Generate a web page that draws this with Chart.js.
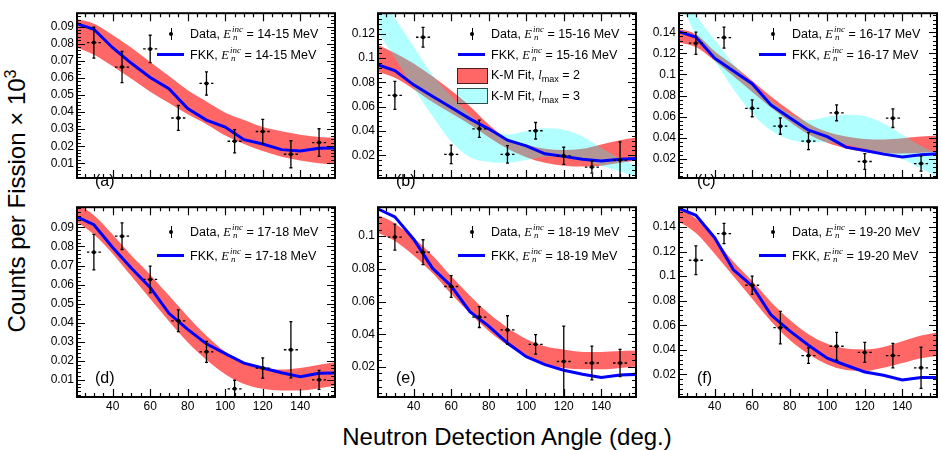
<!DOCTYPE html>
<html>
<head>
<meta charset="utf-8">
<title>Neutron angular distributions</title>
<script src="https://cdn.jsdelivr.net/npm/chart.js@4.4.1/dist/chart.umd.min.js"></script>
<style>
  html, body { margin: 0; padding: 0; background: #fff; overflow: hidden; }
  #wrap { position: relative; width: 941px; height: 450px; font-family: 'Liberation Sans', Arial, sans-serif; color: #000; }
  #wrap canvas { position: absolute; }
  .leg { position: absolute; font-size: 12.5px; line-height: 16px; white-space: nowrap; z-index: 2; }
  .E { font-family: 'Liberation Serif', serif; font-style: italic; }
  .ss { position: relative; display: inline-block; width: 12px; height: 0; }
  .ss span { position: absolute; left: 1px; font: italic 9px/9px 'Liberation Serif', serif; }
  .ss .up { top: -13px; }
  .ss .dn { top: -5px; left: 2px; }
  .lsub { font-size: 9px; position: relative; top: 3px; }
  .sym { position: absolute; z-index: 2; }
  .tag { position: absolute; font-size: 16px; line-height: 16px; z-index: 2; }
  .title { position: absolute; font-size: 24px; line-height: 28px; text-align: center; white-space: nowrap; }
  .title sup { font-size: 16px; line-height: 0; }
</style>
</head>
<body>
<div id="wrap">
  <div class="title" id="ytitle" style="left:-133px; top:187px; width:300px; transform:rotate(-90deg);">Counts per Fission &times; 10<sup>3</sup></div>
  <div class="title" id="xtitle" style="left:207px; top:423px; width:600px;">Neutron Detection Angle (deg.)</div>
</div>
<script>
// measured angles (deg) and the angular bin half width
const ANGLES = [30, 45, 60, 75, 90, 105, 120, 135, 150];
const ANGLE_HALF_WIDTH = 3.75;
// angles where the FKK calculation and the K-M fit bands are sampled
const CURVE_ANGLES = [20, 30, 40, 50, 60, 70, 80, 90, 100, 110, 120, 130, 140, 150, 160];
const X_RANGE = [21, 158.5];
const X_TICKS = [40, 60, 80, 100, 120, 140];
const E_BINS = ['14-15', '15-16', '16-17', '17-18', '18-19', '19-20'];
const PANEL_TAGS = ['(a)', '(b)', '(c)', '(d)', '(e)', '(f)'];

// (a) 14-15 MeV
const DATA_A = [0.0806, 0.0663, 0.0769, 0.0365, 0.0567, 0.0229, 0.0286, 0.0153, 0.0221];
const ERR_A = [0.0091, 0.0091, 0.0080, 0.0073, 0.0068, 0.0068, 0.0071, 0.0079, 0.0081];
const FKK_A = [0.0920, 0.0884, 0.0776, 0.0685, 0.0602, 0.0536, 0.0420, 0.0353, 0.0312, 0.0238, 0.0213, 0.0180, 0.0172, 0.0188, 0.0190];
const KM2_LO_A = [0.0780, 0.0735, 0.0668, 0.0594, 0.0519, 0.0453, 0.0387, 0.0329, 0.0262, 0.0213, 0.0172, 0.0138, 0.0117, 0.0100, 0.0093];
const KM2_HI_A = [0.0945, 0.0917, 0.0850, 0.0776, 0.0693, 0.0610, 0.0527, 0.0461, 0.0396, 0.0353, 0.0312, 0.0287, 0.0267, 0.0254, 0.0248];
const Y_RANGE_A = [0.0014, 0.0978];
const Y_TICKS_A = [0.01, 0.02, 0.03, 0.04, 0.05, 0.06, 0.07, 0.08, 0.09];

// (b) 15-16 MeV
const DATA_B = [0.0693, 0.1172, 0.0208, 0.0418, 0.0208, 0.0402, 0.0196, 0.0103, 0.0161];
const ERR_B = [0.0115, 0.0082, 0.0076, 0.0071, 0.0072, 0.0068, 0.0070, 0.0050, 0.0150];
const FKK_B = [0.0950, 0.0897, 0.0780, 0.0686, 0.0593, 0.0500, 0.0418, 0.0324, 0.0278, 0.0212, 0.0191, 0.0168, 0.0154, 0.0168, 0.0175];
const KM2_LO_B = [0.0890, 0.0838, 0.0744, 0.0639, 0.0546, 0.0453, 0.0348, 0.0254, 0.0184, 0.0138, 0.0114, 0.0107, 0.0114, 0.0138, 0.0161];
const KM2_HI_B = [0.1115, 0.1042, 0.0955, 0.0850, 0.0733, 0.0604, 0.0453, 0.0336, 0.0289, 0.0254, 0.0243, 0.0254, 0.0289, 0.0324, 0.0350];
const KM3_LO_B = [0.1230, 0.1002, 0.0756, 0.0523, 0.0313, 0.0184, 0.0145, 0.0138, 0.0161, 0.0189, 0.0191, 0.0161, 0.0114, 0.0068, 0.0015];
const KM3_HI_B = [0.1550, 0.1329, 0.1095, 0.0861, 0.0686, 0.0534, 0.0418, 0.0371, 0.0401, 0.0422, 0.0411, 0.0355, 0.0261, 0.0173, 0.0108];
const Y_RANGE_B = [0.0013, 0.137];
const Y_TICKS_B = [0.02, 0.04, 0.06, 0.08, 0.1, 0.12];

// (c) 16-17 MeV
const DATA_C = [0.1296, 0.1349, 0.0680, 0.0511, 0.0369, 0.0637, 0.0176, 0.0586, 0.0157];
const ERR_C = [0.0105, 0.0100, 0.0080, 0.0077, 0.0080, 0.0075, 0.0075, 0.0088, 0.0072];
const FKK_C = [0.1410, 0.1355, 0.1154, 0.1033, 0.0913, 0.0712, 0.0591, 0.0473, 0.0412, 0.0312, 0.0280, 0.0246, 0.0219, 0.0240, 0.0251];
const KM2_LO_C = [0.1305, 0.1260, 0.1130, 0.0983, 0.0835, 0.0688, 0.0553, 0.0433, 0.0353, 0.0300, 0.0267, 0.0251, 0.0251, 0.0259, 0.0273];
const KM2_HI_C = [0.1435, 0.1381, 0.1220, 0.1087, 0.0940, 0.0792, 0.0658, 0.0537, 0.0457, 0.0412, 0.0390, 0.0385, 0.0396, 0.0412, 0.0423];
const KM3_LO_C = [0.1750, 0.1380, 0.1127, 0.0859, 0.0631, 0.0471, 0.0385, 0.0358, 0.0358, 0.0337, 0.0296, 0.0256, 0.0203, 0.0109, 0.0020];
const KM3_HI_C = [0.1950, 0.1570, 0.1328, 0.1100, 0.0913, 0.0752, 0.0631, 0.0565, 0.0599, 0.0618, 0.0605, 0.0537, 0.0430, 0.0324, 0.0235];
const Y_RANGE_C = [0.002, 0.158];
const Y_TICKS_C = [0.02, 0.04, 0.06, 0.08, 0.1, 0.12, 0.14];

// (d) 17-18 MeV
const DATA_D = [0.0770, 0.0854, 0.0627, 0.0410, 0.0247, 0.0053, 0.0162, 0.0258, 0.0100];
const ERR_D = [0.0093, 0.0070, 0.0070, 0.0057, 0.0055, 0.0045, 0.0053, 0.0148, 0.0050];
const FKK_D = [0.0960, 0.0914, 0.0795, 0.0686, 0.0585, 0.0449, 0.0365, 0.0289, 0.0238, 0.0188, 0.0162, 0.0137, 0.0117, 0.0134, 0.0137];
const KM2_LO_D = [0.0935, 0.0863, 0.0762, 0.0643, 0.0525, 0.0407, 0.0297, 0.0205, 0.0129, 0.0078, 0.0053, 0.0044, 0.0044, 0.0056, 0.0071];
const KM2_HI_D = [0.1030, 0.0964, 0.0863, 0.0753, 0.0652, 0.0542, 0.0433, 0.0331, 0.0247, 0.0191, 0.0162, 0.0154, 0.0162, 0.0179, 0.0197];
const Y_RANGE_D = [0.001, 0.1006];
const Y_TICKS_D = [0.01, 0.02, 0.03, 0.04, 0.05, 0.06, 0.07, 0.08, 0.09];

// (e) 18-19 MeV
const DATA_E = [0.0994, 0.0902, 0.0692, 0.0505, 0.0426, 0.0338, 0.0233, 0.0224, 0.0224];
const ERR_E = [0.0080, 0.0076, 0.0067, 0.0064, 0.0087, 0.0060, 0.0217, 0.0103, 0.0083];
const FKK_E = [0.1172, 0.1118, 0.0981, 0.0804, 0.0695, 0.0538, 0.0450, 0.0346, 0.0263, 0.0214, 0.0180, 0.0155, 0.0135, 0.0151, 0.0155];
const KM2_LO_E = [0.1025, 0.0971, 0.0882, 0.0774, 0.0646, 0.0528, 0.0420, 0.0332, 0.0263, 0.0220, 0.0194, 0.0185, 0.0185, 0.0194, 0.0205];
const KM2_HI_E = [0.1134, 0.1078, 0.0990, 0.0882, 0.0754, 0.0636, 0.0528, 0.0440, 0.0371, 0.0326, 0.0306, 0.0292, 0.0292, 0.0298, 0.0301];
const Y_RANGE_E = [0.0016, 0.1177];
const Y_TICKS_E = [0.02, 0.04, 0.06, 0.08, 0.1];

// (f) 19-20 MeV
const DATA_F = [0.1130, 0.1348, 0.0926, 0.0580, 0.0352, 0.0428, 0.0378, 0.0352, 0.0252];
const ERR_F = [0.0118, 0.0083, 0.0075, 0.0133, 0.0063, 0.0114, 0.0082, 0.0100, 0.0168];
const FKK_F = [0.1560, 0.1497, 0.1314, 0.1052, 0.0920, 0.0685, 0.0554, 0.0436, 0.0331, 0.0273, 0.0218, 0.0192, 0.0153, 0.0174, 0.0174];
const KM2_LO_F = [0.1455, 0.1353, 0.1183, 0.0999, 0.0816, 0.0633, 0.0480, 0.0365, 0.0279, 0.0234, 0.0226, 0.0252, 0.0291, 0.0331, 0.0352];
const KM2_HI_F = [0.1557, 0.1471, 0.1301, 0.1117, 0.0960, 0.0790, 0.0645, 0.0527, 0.0449, 0.0409, 0.0402, 0.0423, 0.0470, 0.0515, 0.0545];
const Y_RANGE_F = [0.0014, 0.1563];
const Y_TICKS_F = [0.02, 0.04, 0.06, 0.08, 0.1, 0.12, 0.14];

const FONT = "'Liberation Sans', Arial, sans-serif";
const RED_FILL = 'rgba(255,0,0,0.6)';
const CYAN_FILL = 'rgba(0,255,255,0.3)';
const FKK_BLUE = '#0000ff';

const COL_LEFT = [77, 378, 679];
const FRAME_W = 260;
const Y_AXIS_W = 44;

// only panel (b) carries the K-M legend entries
const panels = [
  { data: DATA_A, err: ERR_A, fkk: FKK_A, km2: [KM2_LO_A, KM2_HI_A], km3: null, yRange: Y_RANGE_A, yTicks: Y_TICKS_A, yMinor: 0.002 },
  { data: DATA_B, err: ERR_B, fkk: FKK_B, km2: [KM2_LO_B, KM2_HI_B], km3: [KM3_LO_B, KM3_HI_B], yRange: Y_RANGE_B, yTicks: Y_TICKS_B, yMinor: 0.004, kmLegend: true },
  { data: DATA_C, err: ERR_C, fkk: FKK_C, km2: [KM2_LO_C, KM2_HI_C], km3: [KM3_LO_C, KM3_HI_C], yRange: Y_RANGE_C, yTicks: Y_TICKS_C, yMinor: 0.004 },
  { data: DATA_D, err: ERR_D, fkk: FKK_D, km2: [KM2_LO_D, KM2_HI_D], km3: null, yRange: Y_RANGE_D, yTicks: Y_TICKS_D, yMinor: 0.002 },
  { data: DATA_E, err: ERR_E, fkk: FKK_E, km2: [KM2_LO_E, KM2_HI_E], km3: null, yRange: Y_RANGE_E, yTicks: Y_TICKS_E, yMinor: 0.004 },
  { data: DATA_F, err: ERR_F, fkk: FKK_F, km2: [KM2_LO_F, KM2_HI_F], km3: null, yRange: Y_RANGE_F, yTicks: Y_TICKS_F, yMinor: 0.004 }
];

const wrap = document.getElementById('wrap');
const pts = (xs, ys) => xs.map((x, i) => ({ x, y: ys[i] }));

function bandSets(lo, hi, color, order) {
  const edge = { pointRadius: 0, borderWidth: 0, borderColor: 'transparent', cubicInterpolationMode: 'monotone', clip: 0, order };
  return [
    { ...edge, data: pts(CURVE_ANGLES, lo), fill: false },
    { ...edge, data: pts(CURVE_ANGLES, hi), fill: '-1', backgroundColor: color }
  ];
}

// inward ticks on all four sides plus the frame, ROOT style
function framePlugin(p) {
  return {
    id: 'rootFrame',
    afterDraw(chart) {
      const { ctx, chartArea: a, scales: { x, y } } = chart;
      ctx.save();
      ctx.strokeStyle = '#000';
      ctx.lineWidth = 1.2;
      ctx.beginPath();
      for (let v = 25; v <= 155; v += 5) {
        const px = Math.round(x.getPixelForValue(v)) + 0.5;
        const len = v % 20 === 0 ? 8 : 4;
        ctx.moveTo(px, a.bottom); ctx.lineTo(px, a.bottom - len);
        ctx.moveTo(px, a.top); ctx.lineTo(px, a.top + len);
      }
      const first = Math.ceil(p.yRange[0] / p.yMinor - 1e-6);
      for (let k = first; k * p.yMinor <= p.yRange[1]; k++) {
        const v = k * p.yMinor;
        const py = Math.round(y.getPixelForValue(v)) + 0.5;
        const major = p.yTicks.some(t => Math.abs(t - v) < 1e-6);
        const len = major ? 8 : 4;
        ctx.moveTo(a.left, py); ctx.lineTo(a.left + len, py);
        ctx.moveTo(a.right, py); ctx.lineTo(a.right - len, py);
      }
      ctx.stroke();
      ctx.lineWidth = 2;
      ctx.strokeRect(a.left, a.top, a.right - a.left, a.bottom - a.top);
      ctx.restore();
    }
  };
}

// vertical statistical bars (solid) and angular bin widths (dashed)
function errorPlugin(p) {
  return {
    id: 'errorBars',
    afterDatasetsDraw(chart) {
      const { ctx, chartArea: a, scales: { x, y } } = chart;
      ctx.save();
      ctx.beginPath();
      ctx.rect(a.left, a.top, a.right - a.left, a.bottom - a.top);
      ctx.clip();
      ctx.strokeStyle = '#000';
      ctx.lineWidth = 1.3;
      p.data.forEach((v, k) => {
        const cx = x.getPixelForValue(ANGLES[k]);
        const cy = y.getPixelForValue(v);
        const yt = y.getPixelForValue(v + p.err[k]);
        const yb = y.getPixelForValue(v - p.err[k]);
        ctx.setLineDash([]);
        ctx.beginPath();
        ctx.moveTo(cx, yt); ctx.lineTo(cx, yb);
        ctx.moveTo(cx - 1.5, yt); ctx.lineTo(cx + 1.5, yt);
        ctx.moveTo(cx - 1.5, yb); ctx.lineTo(cx + 1.5, yb);
        ctx.stroke();
        const xl = x.getPixelForValue(ANGLES[k] - ANGLE_HALF_WIDTH);
        const xr = x.getPixelForValue(ANGLES[k] + ANGLE_HALF_WIDTH);
        ctx.setLineDash([2.5, 2]);
        ctx.beginPath();
        ctx.moveTo(xl, cy); ctx.lineTo(cx - 1.5, cy);
        ctx.moveTo(xr, cy); ctx.lineTo(cx + 1.5, cy);
        ctx.stroke();
      });
      ctx.restore();
    }
  };
}

function makePanel(p, i) {
  const col = i % 3, row = Math.floor(i / 3);
  const left = COL_LEFT[col];
  const top = row ? 200 : 6;
  const h = row ? 197 : 194;
  const cw = Y_AXIS_W + FRAME_W + 2;
  const ch = 3 + h + (row ? 22 : 3);

  const canvas = document.createElement('canvas');
  canvas.width = cw; canvas.height = ch;
  canvas.style.left = (left - Y_AXIS_W) + 'px';
  canvas.style.top = (top - 3) + 'px';
  canvas.style.width = cw + 'px';
  canvas.style.height = ch + 'px';
  wrap.appendChild(canvas);

  const datasets = [
    { data: pts(ANGLES, p.data), showLine: false, pointRadius: 2, pointBorderWidth: 0,
      pointBackgroundColor: '#000', borderColor: '#000', order: 0, clip: 0 },
    { data: pts(CURVE_ANGLES, p.fkk), borderColor: FKK_BLUE, borderWidth: 3, pointRadius: 0,
      tension: 0, fill: false, order: 1, clip: 0 }
  ];
  if (p.km3) datasets.push(...bandSets(p.km3[0], p.km3[1], CYAN_FILL, 2));
  datasets.push(...bandSets(p.km2[0], p.km2[1], RED_FILL, 3));

  new Chart(canvas, {
    type: 'line',
    data: { datasets },
    options: {
      responsive: false,
      animation: false,
      devicePixelRatio: 1,
      events: [],
      layout: { padding: { left: 0, top: 3, right: 2, bottom: row ? 0 : 3 } },
      plugins: { legend: { display: false }, tooltip: { enabled: false } },
      scales: {
        x: {
          type: 'linear', min: X_RANGE[0], max: X_RANGE[1], display: row === 1,
          grid: { display: false, drawTicks: false }, border: { display: false },
          afterBuildTicks: s => { s.ticks = X_TICKS.map(v => ({ value: v })); },
          afterFit: s => { s.height = 22; },
          ticks: { autoSkip: false, maxRotation: 0, padding: 2, color: '#000', font: { family: FONT, size: 12 } }
        },
        y: {
          type: 'linear', min: p.yRange[0], max: p.yRange[1],
          grid: { display: false, drawTicks: false }, border: { display: false },
          afterBuildTicks: s => { s.ticks = p.yTicks.map(v => ({ value: v })); },
          afterFit: s => { s.width = Y_AXIS_W; },
          ticks: { autoSkip: false, padding: 3, color: '#000', font: { family: FONT, size: 12 },
                   callback: v => String(+v.toFixed(3)) }
        }
      }
    },
    plugins: [errorPlugin(p), framePlugin(p)]
  });

  addLegend(p, i, left, top, row);
  const tag = document.createElement('div');
  tag.className = 'tag';
  tag.textContent = PANEL_TAGS[i];
  tag.style.left = (left + 18) + 'px';
  tag.style.top = (top + h - 19 - 8) + 'px';
  wrap.appendChild(tag);
}

function el(cls, css, html) {
  const d = document.createElement('div');
  d.className = cls;
  Object.assign(d.style, css);
  if (html) d.innerHTML = html;
  wrap.appendChild(d);
  return d;
}

function addLegend(p, i, left, top, row) {
  const energy = `<i class="E">E</i><span class="ss"><span class="up">inc</span><span class="dn">n</span></span> = ${E_BINS[i]} MeV`;
  const rows = [
    { sym: 'data', text: 'Data, ' + energy },
    { sym: 'fkk', text: 'FKK, ' + energy }
  ];
  if (p.kmLegend) {
    rows.push({ sym: RED_FILL, text: 'K-M Fit, <i class="E">l</i><span class="lsub">max</span> = 2' });
    rows.push({ sym: CYAN_FILL, text: 'K-M Fit, <i class="E">l</i><span class="lsub">max</span> = 3' });
  }
  const centers = row ? [31.5, 55.5] : [28, 48.5, 69, 89.5];
  rows.forEach((r, k) => {
    const cy = top + centers[k];
    if (r.sym === 'data') {
      el('sym', { left: (left + 93.5) + 'px', top: (cy - 6) + 'px', width: '1.3px', height: '12px', background: '#000' });
      el('sym', { left: (left + 92.2) + 'px', top: (cy - 2) + 'px', width: '4px', height: '4px', borderRadius: '2px', background: '#000' });
    } else if (r.sym === 'fkk') {
      el('sym', { left: (left + 80) + 'px', top: (cy - 1.5) + 'px', width: '27px', height: '3px', background: FKK_BLUE });
    } else {
      el('sym', { left: (left + 79) + 'px', top: (cy - 7.5) + 'px', width: '29px', height: '14px',
                  background: r.sym, border: '1px solid rgba(0,0,0,0.7)' });
    }
    el('leg', { left: (left + 113) + 'px', top: (cy - 8) + 'px' }, r.text);
  });
}

panels.forEach(makePanel);
</script>
</body>
</html>
